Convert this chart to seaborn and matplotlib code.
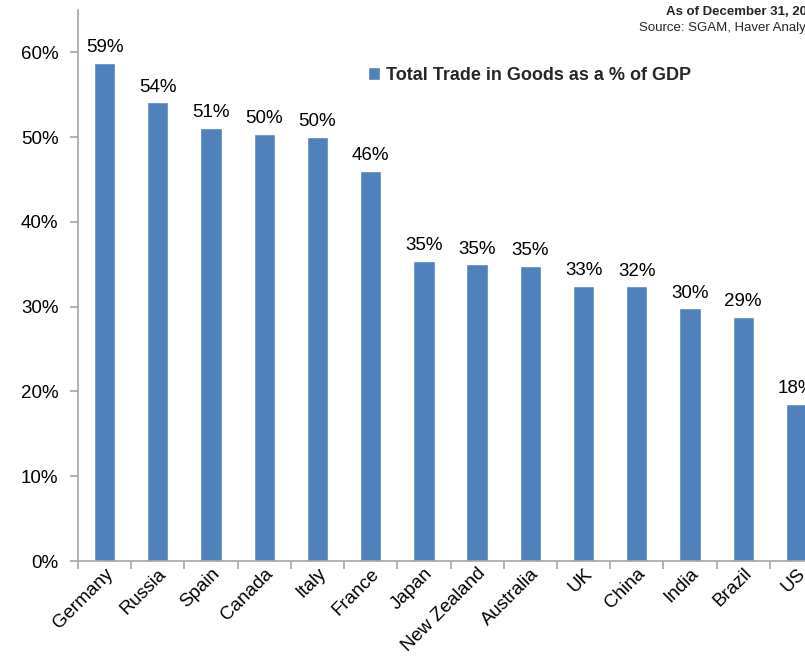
import matplotlib
matplotlib.use("Agg")
import matplotlib.pyplot as plt
import numpy as np
import pandas as pd
import seaborn as sns
from matplotlib.ticker import PercentFormatter, FixedLocator

countries = ["Germany", "Russia", "Spain", "Canada", "Italy", "France", "Japan",
             "New Zealand", "Australia", "UK", "China", "India", "Brazil", "US"]
trade_share = [0.588, 0.541, 0.511, 0.504, 0.500, 0.460, 0.354,
               0.350, 0.348, 0.325, 0.324, 0.298, 0.288, 0.185]
bar_labels = ["59%", "54%", "51%", "50%", "50%", "46%", "35%",
              "35%", "35%", "33%", "32%", "30%", "29%", "18%"]
series_name = "Total Trade in Goods as a % of GDP"

bar_color = "#4F81BD"
axis_color = "#A6A6A6"
fonts = ["Liberation Sans Narrow", "Liberation Sans", "DejaVu Sans"]
fs = 13.5

sns.set_style("white")
plt.rcParams["font.family"] = fonts

df = pd.DataFrame({"country": countries, "share": trade_share})

W, H = 805, 663
fig = plt.figure(figsize=(W / 100, H / 100), dpi=100)
# axes runs past the right edge, like the cropped original
ax = fig.add_axes([78 / W, (H - 561) / H, 745 / W, 551 / H])

sns.barplot(data=df, x="country", y="share", color=bar_color, width=0.4,
            saturation=1, ax=ax, label=series_name)

for i, (v, lab) in enumerate(zip(trade_share, bar_labels)):
    ax.text(i, v + 0.008, lab, ha="center", va="bottom", fontsize=fs, color="black")

ax.set_ylim(0, 0.65)
ax.set_xlim(-0.5, len(countries) - 0.5)
ax.yaxis.set_major_locator(FixedLocator(np.arange(0, 0.61, 0.1)))
ax.yaxis.set_major_formatter(PercentFormatter(1.0, decimals=0))
ax.set_xlabel("")
ax.set_ylabel("")

for side in ["top", "right"]:
    ax.spines[side].set_visible(False)
for side in ["left", "bottom"]:
    ax.spines[side].set_color(axis_color)
    ax.spines[side].set_linewidth(1.2)

ax.tick_params(axis="y", which="major", direction="out", length=6, width=1.2,
               color=axis_color, labelsize=fs, pad=8, left=True, labelcolor="black")
ax.tick_params(axis="x", which="major", length=0, labelsize=fs, pad=3, labelcolor="black")
ax.set_xticks(np.arange(-0.5, len(countries), 1.0), minor=True)
ax.tick_params(axis="x", which="minor", direction="out", length=6, width=1.2,
               color=axis_color, bottom=True)
plt.setp(ax.get_xticklabels(), rotation=45, ha="right", rotation_mode="anchor")

leg = ax.legend(loc="upper left", bbox_to_anchor=(0.389, 0.897),
                frameon=False, borderpad=0, borderaxespad=0,
                handlelength=0.7, handleheight=0.7, handletextpad=0.3,
                prop={"weight": "bold", "size": 13})

fig.text(666 / W, 1 - 12 / H, "As of December 31, 2024", ha="left", va="center",
         fontsize=9.5, fontweight="bold")
fig.text(639 / W, 1 - 28 / H, "Source: SGAM, Haver Analytics", ha="left", va="center",
         fontsize=9.5)

fig.savefig("out.png", dpi=100)
